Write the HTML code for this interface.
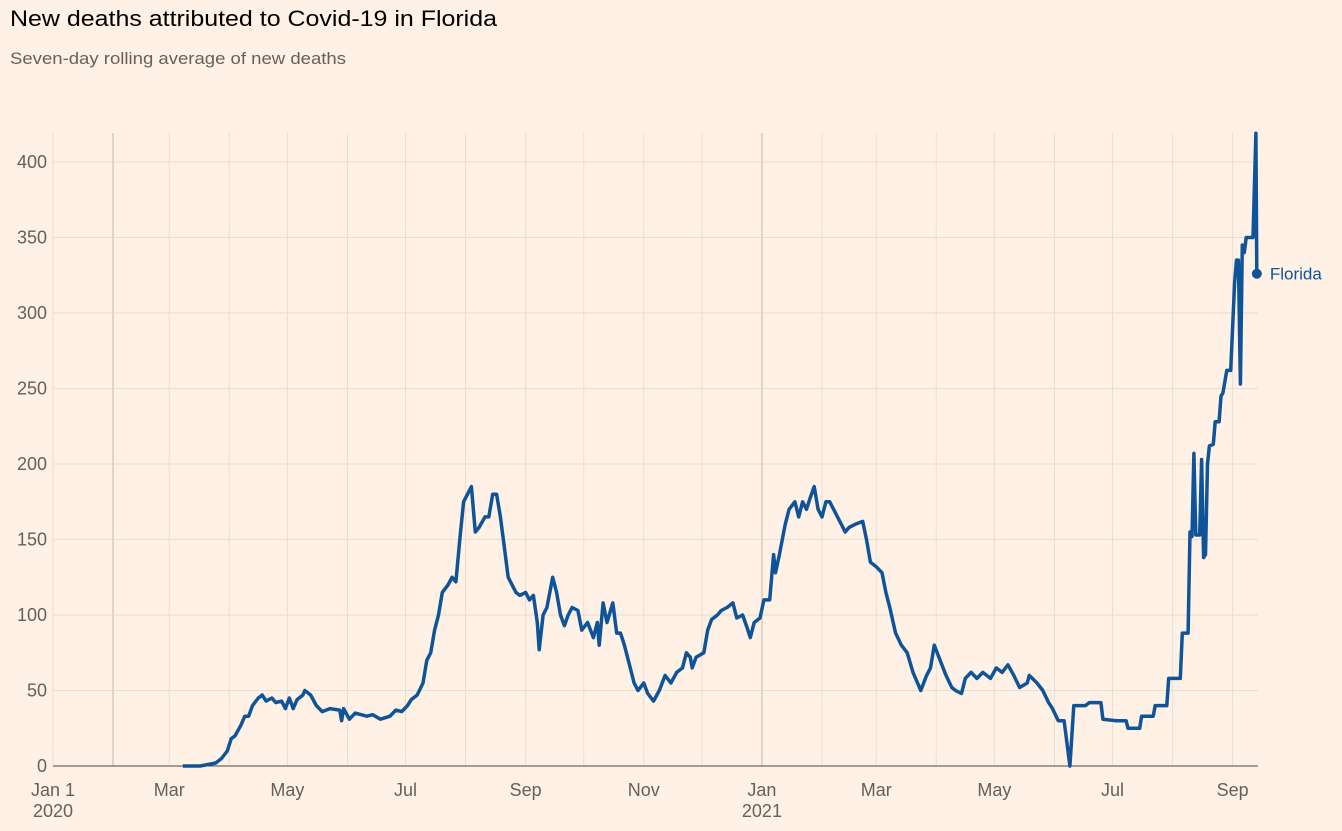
<!DOCTYPE html>
<html><head><meta charset="utf-8">
<style>
html,body{margin:0;padding:0;background:#fff1e5;}
svg{display:block;font-family:"Liberation Sans",sans-serif;}
</style></head>
<body>
<svg id="chart" width="1342" height="831" viewBox="0 0 1342 831">
<rect width="1342" height="831" fill="#fff1e5"/>
<text x="10" y="26" font-size="22" fill="#000" textLength="487" lengthAdjust="spacingAndGlyphs">New deaths attributed to Covid-19 in Florida</text>
<text x="10" y="64" font-size="17" fill="#66605c" textLength="336" lengthAdjust="spacingAndGlyphs">Seven-day rolling average of new deaths</text>
<g id="grid"></g>
<g id="axes"></g>
<g id="series"></g>
</svg>
<script>
const yTicks = [0,50,100,150,200,250,300,350,400];
const monthDays = [31,60,91,121,152,182,213,244,274,305,335,366,397,425,456,486,517,547,578,609];
const xLabelDays = [0,60,121,182,244,305,366,425,486,547,609];
const xLabels = ["Jan 1","Mar","May","Jul","Sep","Nov","Jan","Mar","May","Jul","Sep"];
const xLabels2 = ["2020","","","","","","2021","","","",""];
const days = [67,76,84,87,90,92,94,97,99,101,103,106,108,110,113,115,118,120,122,124,126,129,130,133,136,139,143,148,149,150,153,156,162,165,169,174,177,180,183,185,188,191,193,195,197,199,201,204,206,208,210,212,214,216,218,220,223,225,227,229,231,233,235,237,239,241,244,246,248,250,251,253,255,258,260,262,264,266,268,271,273,276,279,281,282,284,286,289,291,293,295,297,300,302,305,307,310,313,316,319,322,325,327,329,330,332,336,338,340,343,345,348,351,353,356,358,360,362,365,367,370,372,373,375,378,380,383,385,387,389,391,393,395,397,399,401,403,405,407,409,411,414,418,420,422,425,428,430,432,435,438,441,444,448,451,453,455,458,461,464,466,469,471,474,477,480,484,487,490,493,496,499,503,504,508,511,514,516,519,522,525,527,533,535,541,542,549,554,555,561,562,568,569,575,576,582,583,586,587,588,589,590,592,593,594,595,596,597,599,600,602,603,604,606,608,610,611,612,613,614,615,616,619.5,621,621.5];
const values = [0,0,2,5,10,18,20,27,33,33,40,45,47,43,45,42,43,38,45,38,44,47,50,47,40,36,38,37,30,38,31,35,33,34,31,33,37,36,40,44,47,55,70,75,90,100,115,120,125,122,150,175,180,185,155,158,165,165,180,180,165,145,125,120,115,113,115,110,113,95,77,100,105,125,115,100,93,100,105,103,90,95,85,95,80,108,95,108,88,88,80,70,55,50,55,48,43,50,60,55,62,65,75,72,65,72,75,90,97,100,103,105,108,98,100,93,85,95,98,110,110,140,128,140,160,170,175,165,175,170,178,185,170,165,175,175,170,165,160,155,158,160,162,150,135,132,128,115,105,88,80,75,62,50,60,65,80,70,60,52,50,48,58,62,58,62,58,65,62,67,60,52,55,60,55,50,42,38,30,30,0,40,40,42,42,31,30,30,25,25,33,33,40,40,58,58,88,88,155,152,207,153,153,203,138,140,200,212,213,228,228,245,247,262,262,320,335,335,253,345,340,350,350,419,326];
const NS="http://www.w3.org/2000/svg";
const X0=53, PX=1.937, Y0=766, PY=1.51, XR=1258, YT=133;
function xs(d){return X0+d*PX;}
function ys(v){return Y0-v*PY;}
function mk(tag,attrs,parent){const e=document.createElementNS(NS,tag);for(const k in attrs)e.setAttribute(k,attrs[k]);parent.appendChild(e);return e;}
const grid=document.getElementById('grid'), axes=document.getElementById('axes'), series=document.getElementById('series');
yTicks.forEach(v=>{
  if(v>0){const l=mk('line',{x1:X0,x2:XR,y1:ys(v),y2:ys(v),stroke:'#e9dcd1','stroke-width':1},grid);
  
  }
  const t=mk('text',{x:47,y:ys(v)+6,'text-anchor':'end','font-size':18,fill:'#66605c'},axes);
  t.textContent=v;
  
  
});
monthDays.forEach(d=>{
  const dark=(d===31||d===366);
  const l=mk('line',{x1:xs(d),x2:xs(d),y1:YT,y2:Y0,stroke:dark?'#e0d3c8':'#eaddd2','stroke-width':dark?2:1},grid);
  
  
});
const base=mk('line',{x1:X0,x2:XR,y1:Y0,y2:Y0,stroke:'#4d4845','stroke-width':1},axes);


const yl=mk('line',{x1:X0,x2:X0,y1:YT,y2:Y0,stroke:'#e9dcd1','stroke-width':1},grid);


xLabelDays.forEach((d,i)=>{
  const t=mk('text',{x:xs(d),y:796,'text-anchor':'middle','font-size':18,fill:'#66605c'},axes);
  t.textContent=xLabels[i];
  
  
  if(xLabels2[i]){const t2=mk('text',{x:xs(d),y:817,'text-anchor':'middle','font-size':18,fill:'#66605c'},axes);
  t2.textContent=xLabels2[i];
  
  }
});
let dstr='';
days.forEach((d,i)=>{dstr+=(i?'L':'M')+xs(d).toFixed(1)+','+ys(values[i]).toFixed(1);});
const p=mk('path',{d:dstr,fill:'none',stroke:'#0f5499','stroke-width':3.5,'stroke-linejoin':'round'},series);


const li=days.length-1;
const dot=mk('circle',{cx:xs(days[li]),cy:ys(values[li]),r:5,fill:'#0f5499'},series);


const lab=mk('text',{x:xs(days[li])+13,y:ys(values[li])+6,'font-size':17,fill:'#0f5499'},series);
lab.textContent='Florida';


</script>
</body></html>
